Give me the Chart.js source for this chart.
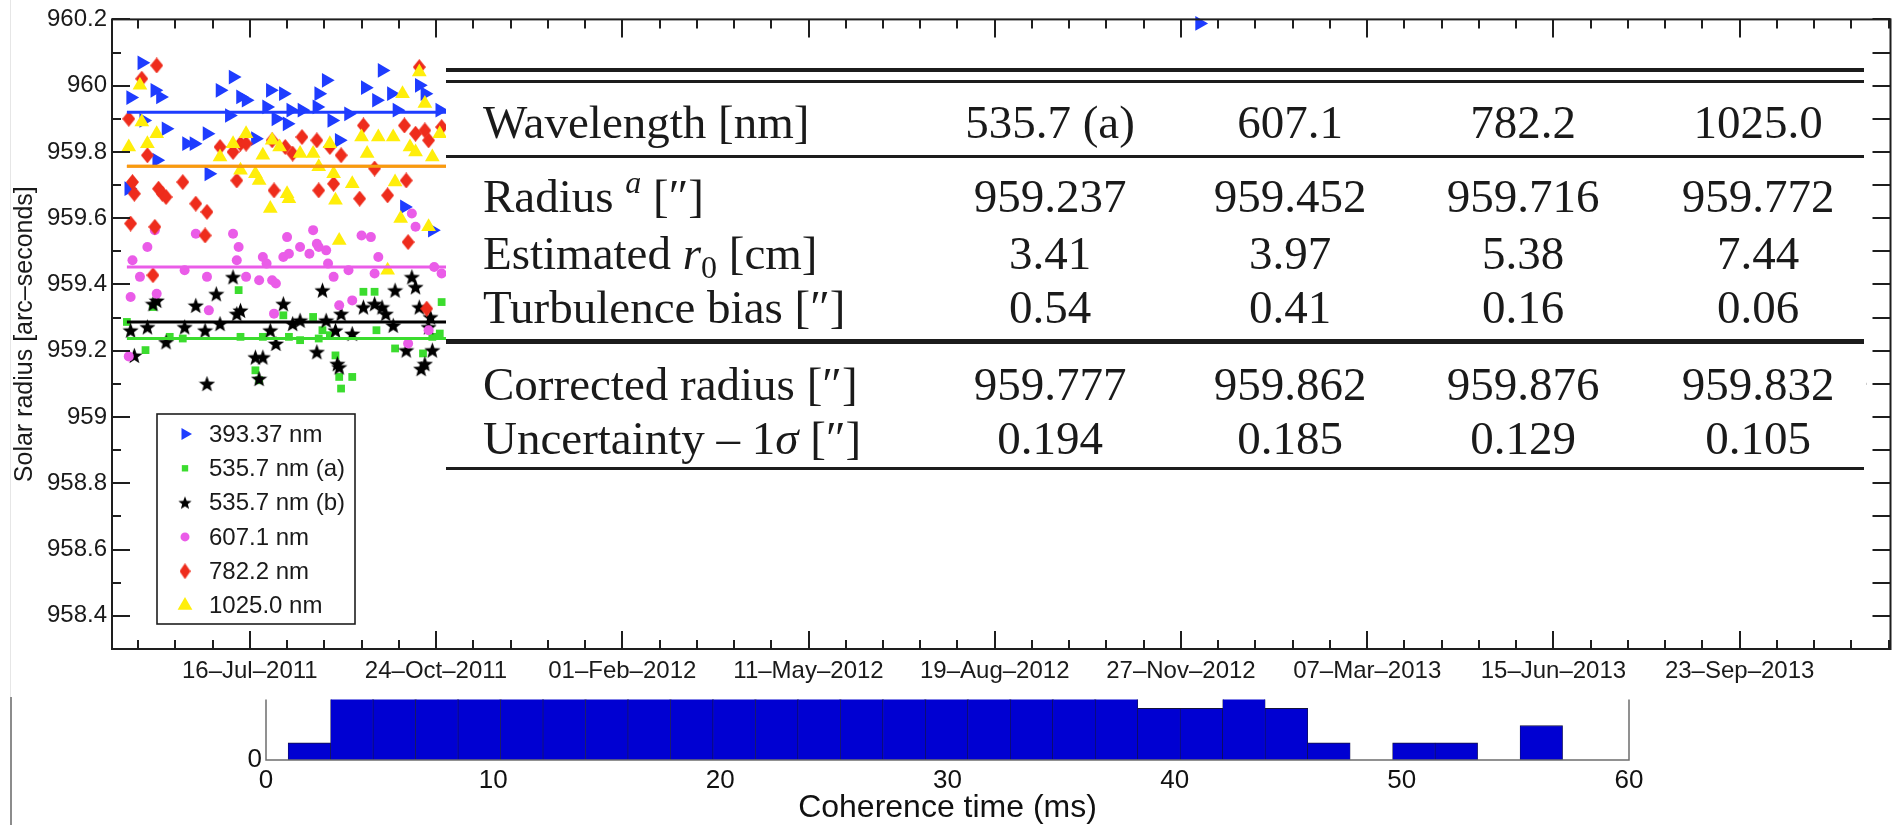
<!DOCTYPE html>
<html>
<head>
<meta charset="utf-8">
<script src="https://cdn.jsdelivr.net/npm/chart.js@4.4.1/dist/chart.umd.min.js"></script>
<style>
  html, body { margin: 0; padding: 0; background: #fff; }
  #page { position: relative; width: 1899px; height: 825px; overflow: hidden; background: #fff; }
  #radiusCanvas { position: absolute; left: 0; top: 0; }
  #histCanvas { position: absolute; left: 0; top: 680px; }
  .edge { position: absolute; }
  .rule { position: absolute; background: #1c1c1c; }
  .cell { position: absolute; font-family: "Liberation Serif", "Times New Roman", serif; font-size: 47px;
          line-height: 47px; color: #1a1a1a; white-space: nowrap; }
  .num { width: 300px; text-align: center; }
  .cell sup { font-size: 32px; line-height: 0; vertical-align: 0; position: relative; top: -19px; }
  .cell sub { font-size: 32px; line-height: 0; vertical-align: 0; position: relative; top: 9px; }
</style>
</head>
<body>
<div id="page">
  <div class="edge" style="left:10px;top:0;width:1px;height:697px;background:#e6e6e6"></div>
  <div class="edge" style="left:10px;top:697px;width:2px;height:128px;background:#8c8c8c"></div>
  <canvas id="radiusCanvas" width="1899" height="700"></canvas>
  <canvas id="histCanvas" width="1899" height="145"></canvas>
  <div id="table"></div>
</div>
<script>
// ---------------- daily solar radius measurements ----------------
const seriesLabels = ['393.37 nm', '535.7 nm (a)', '535.7 nm (b)', '607.1 nm', '782.2 nm', '1025.0 nm'];

const dates393 = ['2011-05-12','2011-05-13','2011-05-19','2011-05-20','2011-05-26','2011-05-27','2011-05-29','2011-06-01',
  '2011-06-12','2011-06-16','2011-06-23','2011-06-24','2011-06-30','2011-07-05','2011-07-07','2011-07-11','2011-07-14',
  '2011-07-19','2011-07-25','2011-07-27','2011-07-30','2011-08-03','2011-08-05','2011-08-07','2011-08-13','2011-08-21',
  '2011-08-22','2011-08-26','2011-08-29','2011-09-02','2011-09-07','2011-09-16','2011-09-22','2011-09-25','2011-09-30',
  '2011-10-03','2011-10-07','2011-10-15','2011-10-18','2011-10-22','2011-10-26','2012-12-07'];
const radius393 = [959.689,959.964,960.069,959.895,959.986,959.775,959.966,959.870,
  959.825,959.825,959.855,959.734,959.986,959.910,960.026,959.966,959.956,
  959.840,959.936,959.986,959.900,959.976,959.885,959.926,959.926,959.936,
  959.976,960.016,959.895,959.835,959.915,959.994,959.956,960.046,959.976,
  959.926,959.634,960.001,959.976,959.564,959.926,960.188];

const dates535a = ['2011-05-11','2011-05-21','2011-05-25','2011-06-03','2011-06-10','2011-07-10','2011-07-11','2011-07-19',
  '2011-07-21','2011-07-23','2011-08-03','2011-08-06','2011-08-12','2011-08-19','2011-08-22','2011-08-24','2011-08-28',
  '2011-08-31','2011-09-02','2011-09-03','2011-09-09','2011-09-15','2011-09-21','2011-09-22','2011-10-02','2011-10-17',
  '2011-10-22','2011-10-26','2011-10-27','2013-11-26'];
const radius535a = [959.287,959.202,959.332,959.242,959.237,959.383,959.242,959.141,
  959.111,959.242,959.307,959.242,959.232,959.302,959.237,959.262,959.247,
  959.186,959.121,959.086,959.121,959.378,959.378,959.262,959.207,959.192,
  959.242,959.252,959.347,959.268];

const dates535b = ['2011-05-13','2011-05-15','2011-05-22','2011-05-25','2011-05-27','2011-06-01','2011-06-11','2011-06-17',
  '2011-06-22','2011-06-23','2011-06-28','2011-06-30','2011-07-07','2011-07-09','2011-07-11','2011-07-19','2011-07-21',
  '2011-07-23','2011-07-27','2011-07-30','2011-08-03','2011-08-08','2011-08-12','2011-08-21','2011-08-24','2011-08-26',
  '2011-08-31','2011-09-01','2011-09-02','2011-09-03','2011-09-09','2011-09-15','2011-09-21','2011-09-25','2011-09-27',
  '2011-10-01','2011-10-02','2011-10-08','2011-10-11','2011-10-13','2011-10-15','2011-10-16','2011-10-18','2011-10-20',
  '2011-10-21','2011-10-22','2013-11-26'];
const radius535b = [959.262,959.186,959.272,959.342,959.352,959.227,959.272,959.337,
  959.262,959.101,959.372,959.282,959.423,959.312,959.322,959.181,959.116,
  959.181,959.262,959.222,959.342,959.282,959.292,959.197,959.383,959.292,
  959.262,959.161,959.151,959.312,959.252,959.332,959.342,959.332,959.312,
  959.277,959.383,959.202,959.423,959.393,959.332,959.146,959.161,959.272,
  959.302,959.202,959.096];

const dates607 = ['2011-05-12','2011-05-13','2011-05-14','2011-05-18','2011-05-22','2011-05-26','2011-05-27','2011-06-11',
  '2011-06-17','2011-06-23','2011-06-24','2011-07-07','2011-07-09','2011-07-10','2011-07-14','2011-07-21','2011-07-23',
  '2011-07-25','2011-07-28','2011-07-29','2011-07-30','2011-08-03','2011-08-05','2011-08-06','2011-08-12','2011-08-17',
  '2011-08-19','2011-08-21','2011-08-22','2011-08-26','2011-08-27','2011-08-30','2011-09-02','2011-09-07','2011-09-09',
  '2011-09-14','2011-09-19','2011-09-21','2011-09-23','2011-10-09','2011-10-11','2011-10-13','2011-10-20','2011-10-23',
  '2011-10-27','2013-11-26'];
const radius607 = [959.183,959.362,959.473,959.423,959.513,959.564,959.372,959.443,
  959.553,959.423,959.322,959.553,959.473,959.513,959.423,959.413,959.483,
  959.463,959.413,959.312,959.403,959.483,959.543,959.493,959.513,959.493,
  959.564,959.523,959.513,959.503,959.463,959.423,959.337,959.443,959.352,
  959.548,959.543,959.433,959.483,959.222,959.614,959.574,959.262,959.453,
  959.433,959.238];

const dates782 = ['2011-05-12','2011-05-13','2011-05-14','2011-05-15','2011-05-19','2011-05-22','2011-05-25','2011-05-26',
  '2011-05-27','2011-05-28','2011-05-30','2011-06-01','2011-06-10','2011-06-17','2011-06-22','2011-06-23','2011-06-30',
  '2011-07-07','2011-07-09','2011-07-11','2011-07-14','2011-07-28','2011-07-29','2011-08-04','2011-08-08','2011-08-13',
  '2011-08-21','2011-08-22','2011-08-28','2011-08-30','2011-09-03','2011-09-13','2011-09-15','2011-09-21','2011-09-28',
  '2011-10-07','2011-10-08','2011-10-09','2011-10-13','2011-10-15','2011-10-18','2011-10-19','2011-10-20','2011-10-27',
  '2013-11-26'];
const radius782 = [959.900,959.584,959.709,959.674,960.021,959.790,959.428,959.574,
  960.061,959.689,959.674,959.664,959.709,959.644,959.548,959.619,959.815,
  959.800,959.714,959.825,959.825,959.835,959.684,959.815,959.795,959.845,
  959.835,959.684,959.815,959.704,959.790,959.659,959.880,959.750,959.669,
  959.880,959.714,959.528,959.855,960.056,959.865,959.327,959.835,959.875,
  959.594];

const dates1025 = ['2011-05-12','2011-05-18','2011-05-19','2011-05-22','2011-05-27','2011-06-30','2011-07-07','2011-07-11',
  '2011-07-14','2011-07-19','2011-07-21','2011-07-23','2011-07-27','2011-07-28','2011-08-01','2011-08-05','2011-08-06',
  '2011-08-12','2011-08-19','2011-08-22','2011-08-28','2011-08-30','2011-08-31','2011-09-02','2011-09-09','2011-09-14',
  '2011-09-17','2011-09-23','2011-09-28','2011-10-01','2011-10-02','2011-10-05','2011-10-06','2011-10-10','2011-10-13',
  '2011-10-15','2011-10-18','2011-10-20','2011-10-22','2011-10-26','2013-11-24','2013-11-26'];
const radius1025 = [959.815,960.001,959.890,959.825,959.855,959.785,959.825,959.745,
  959.855,959.734,959.714,959.790,959.629,959.835,959.815,959.674,959.659,
  959.795,959.795,959.755,959.825,959.734,959.654,959.533,959.704,959.845,
  959.795,959.845,959.443,959.845,959.709,959.599,959.976,959.815,959.800,
  960.041,959.946,959.574,959.785,959.855,959.714,959.802];

// mean level fitted to each series (same order as seriesLabels) and the span it covers
const fitRadius = [959.920, 959.237, 959.287, 959.453, 959.757, 959.757];
const fitSpan = ['2011-05-11', '2013-11-26'];

// axis ranges and tick labels
const axisStart = '2011-05-03';
const axisEnd = '2013-12-13';
const dateTickLabels = ['16–Jul–2011', '24–Oct–2011', '01–Feb–2012', '11–May–2012', '19–Aug–2012',
  '27–Nov–2012', '07–Mar–2013', '15–Jun–2013', '23–Sep–2013'];
const radiusMin = 958.3;
const radiusMax = 960.2;
const radiusTickLabels = ['958.4', '958.6', '958.8', '959', '959.2', '959.4', '959.6', '959.8', '960', '960.2'];

// ---------------- coherence time histogram ----------------
const binCenters = [1.91, 3.78, 5.65, 7.52, 9.39, 11.26, 13.13, 15.00, 16.87, 18.74, 20.61, 22.48, 24.35, 26.22,
  28.09, 29.96, 31.83, 33.70, 35.57, 37.44, 39.31, 41.18, 43.05, 44.92, 46.79, 48.66, 50.53, 52.40, 54.27, 56.14];
const binCounts = [1, 4, 4, 4, 4, 4, 4, 4, 4, 4, 4, 4, 4, 4, 4, 4, 4, 4, 4, 4, 3, 3, 4, 3, 1, 0, 1, 1, 0, 2];
const coherenceTicks = ['0', '10', '20', '30', '40', '50', '60'];

// ---------------- results table ----------------
const tableHeader = 'Wavelength [nm]';
const tableColumns = ['535.7 (a)', '607.1', '782.2', '1025.0'];
const rowLabels = ['Radius <sup><i>a</i></sup> [″]', 'Estimated <i>r</i><sub>0</sub> [cm]', 'Turbulence bias [″]',
  'Corrected radius [″]', 'Uncertainty – 1<i>σ</i> [″]'];
const radiusArcsec = [959.237, 959.452, 959.716, 959.772];
const friedR0 = [3.41, 3.97, 5.38, 7.44];
const turbulenceBias = [0.54, 0.41, 0.16, 0.06];
const correctedRadius = [959.777, 959.862, 959.876, 959.832];
const radiusUncertainty = [0.194, 0.185, 0.129, 0.105];

// ================================================================
const SANS = '"Liberation Sans", Arial, Helvetica, sans-serif';
Chart.defaults.font.family = SANS;
Chart.defaults.color = '#1a1a1a';

const DAY = 86400000;
const MONTHS = {Jan: 0, Feb: 1, Mar: 2, Apr: 3, May: 4, Jun: 5, Jul: 6, Aug: 7, Sep: 8, Oct: 9, Nov: 10, Dec: 11};
const parseDay = s => Date.parse(s + 'T00:00:00Z');
const parseTickDate = s => { const [d, m, y] = s.split('–'); return Date.UTC(+y, MONTHS[m], +d); };

const xMin = parseDay(axisStart), xMax = parseDay(axisEnd);
const majorX = dateTickLabels.map(parseTickDate);
const xLabelFor = new Map(majorX.map((t, i) => [t, dateTickLabels[i]]));
const xTickValues = [];
for (let t = majorX[0]; t >= xMin; t -= 20 * DAY) xTickValues.push(t);
for (let t = majorX[0] + 20 * DAY; t < xMax; t += 20 * DAY) xTickValues.push(t);
xTickValues.sort((a, b) => a - b);

const majorY = radiusTickLabels.map(Number);
const yLabelFor = v => { const i = majorY.findIndex(m => Math.abs(m - v) < 1e-6); return i < 0 ? '' : radiusTickLabels[i]; };
const yTickValues = [];
for (let k = Math.round(radiusMin * 10) + 1; k <= Math.round(radiusMax * 10); k++) yTickValues.push(k / 10);

// marker sprites for shapes Chart.js has no filled version of
function starSprite(size, color) {
  const c = document.createElement('canvas'); c.width = c.height = size;
  const g = c.getContext('2d'); g.fillStyle = color; g.beginPath();
  const R = size / 2, r = R * 0.42, cx = size / 2, cy = size / 2 + R * 0.1;
  for (let k = 0; k < 10; k++) {
    const a = -Math.PI / 2 + k * Math.PI / 5, rr = k % 2 ? r : R;
    g.lineTo(cx + rr * Math.cos(a), cy + rr * Math.sin(a));
  }
  g.closePath(); g.fill(); return c;
}
function diamondSprite(w, h, color) {
  const c = document.createElement('canvas'); c.width = w; c.height = h;
  const g = c.getContext('2d'); g.fillStyle = color; g.beginPath();
  g.moveTo(w / 2, 0); g.lineTo(w, h / 2); g.lineTo(w / 2, h); g.lineTo(0, h / 2); g.closePath(); g.fill(); return c;
}

const BLUE = '#1e3cff', GREEN = '#3bdc2e', BLACK = '#000000', MAGENTA = '#ea5ce8', RED = '#ee2c1c', YELLOW = '#ffee0a';

const seriesStyles = [
  {dates: dates393, radius: radius393, color: BLUE, pointStyle: 'triangle', rotation: 90, r: 8.5, legendR: 7},
  {dates: dates535a, radius: radius535a, color: GREEN, pointStyle: 'rect', rotation: 0, r: 5.5, legendR: 4.5},
  {dates: dates535b, radius: radius535b, color: BLACK, pointStyle: starSprite(17, BLACK), rotation: 0, r: 8,
   legendStyle: starSprite(14, BLACK)},
  {dates: dates607, radius: radius607, color: MAGENTA, pointStyle: 'circle', rotation: 0, r: 5, legendR: 4.5},
  {dates: dates782, radius: radius782, color: RED, pointStyle: diamondSprite(13, 16, RED), rotation: 0, r: 8,
   legendStyle: diamondSprite(11, 16, RED)},
  {dates: dates1025, radius: radius1025, color: YELLOW, pointStyle: 'triangle', rotation: 0, r: 8.5, legendR: 8.5}
];
// the 782.2 and 1025.0 means coincide; the translucent yellow over red reads as one orange line
const fitColors = [BLUE, GREEN, BLACK, MAGENTA, RED, 'rgba(255,232,0,0.6)'];
const fitOrder = [0, 0, 0, 0, 0, -1];
const drawOrder = [6, 5, 4, 3, 2, 1];

const datasets = [];
seriesStyles.forEach((s, i) => {
  datasets.push({
    label: seriesLabels[i],
    data: s.dates.map((d, j) => ({x: parseDay(d), y: s.radius[j]})),
    pointStyle: s.pointStyle, pointRotation: s.rotation, pointRadius: s.r,
    backgroundColor: s.color, borderWidth: 0, showLine: false, order: drawOrder[i], clip: false
  });
});
fitRadius.forEach((level, i) => {
  datasets.push({
    label: seriesLabels[i] + ' mean',
    data: fitSpan.map(d => ({x: parseDay(d), y: level})),
    showLine: true, pointRadius: 0, borderColor: fitColors[i], borderWidth: 3, order: fitOrder[i], clip: false
  });
});

const PANEL = {x0: 446, y0: 36, x1: 1866, y1: 648};

const framePlugin = {
  id: 'radiusFrame',
  afterDatasetsDraw(chart) {
    const {ctx, chartArea: a, scales: {x, y}} = chart;
    ctx.save();
    // white panel that carries the results table
    ctx.fillStyle = '#fff';
    ctx.fillRect(PANEL.x0, PANEL.y0, PANEL.x1 - PANEL.x0, PANEL.y1 - PANEL.y0);

    // axes box
    ctx.strokeStyle = '#1e1e1e';
    ctx.lineWidth = 2;
    ctx.strokeRect(a.left, a.top, a.right - a.left, a.bottom - a.top);

    // inward tick marks on all four sides
    ctx.beginPath();
    x.ticks.forEach(t => {
      const px = Math.round(x.getPixelForValue(t.value));
      const len = xLabelFor.has(t.value) ? 18 : 9;
      ctx.moveTo(px, a.bottom); ctx.lineTo(px, a.bottom - len);
      ctx.moveTo(px, a.top); ctx.lineTo(px, a.top + len);
    });
    y.ticks.forEach(t => {
      const py = Math.round(y.getPixelForValue(t.value));
      const len = yLabelFor(t.value) ? 18 : 9;
      ctx.moveTo(a.left, py); ctx.lineTo(a.left + len, py);
      ctx.moveTo(a.right, py); ctx.lineTo(a.right - 18, py);
    });
    ctx.stroke();

    // legend
    const box = {x: 157, y: 414, w: 198, h: 210};
    ctx.fillStyle = '#fff';
    ctx.fillRect(box.x, box.y, box.w, box.h);
    ctx.lineWidth = 1.6;
    ctx.strokeRect(box.x, box.y, box.w, box.h);
    ctx.font = '24px ' + SANS;
    ctx.textBaseline = 'middle';
    ctx.textAlign = 'left';
    seriesStyles.forEach((s, i) => {
      const cy = box.y + 20 + i * 34.3;
      ctx.fillStyle = s.color;
      Chart.helpers.drawPoint(ctx, {
        pointStyle: s.legendStyle || s.pointStyle, rotation: s.rotation,
        radius: s.legendR || s.r, borderWidth: 0
      }, 185, cy);
      ctx.fillStyle = '#1a1a1a';
      ctx.fillText(seriesLabels[i], 209, cy + 1);
    });
    ctx.restore();
  }
};

new Chart(document.getElementById('radiusCanvas'), {
  type: 'scatter',
  data: {datasets},
  options: {
    responsive: false, animation: false, events: [],
    layout: {padding: {top: 19, right: 3, left: 0, bottom: 0}},
    plugins: {legend: {display: false}, tooltip: {enabled: false}},
    scales: {
      x: {
        type: 'linear', min: xMin, max: xMax,
        afterBuildTicks: s => { s.ticks = xTickValues.map(v => ({value: v})); },
        afterFit: s => { s.height = 51; },
        grid: {display: false, drawTicks: false},
        border: {display: false},
        ticks: {autoSkip: false, maxRotation: 0, minRotation: 0, padding: 8, color: '#1a1a1a',
                font: {size: 24}, callback: v => xLabelFor.get(v) || ''}
      },
      y: {
        type: 'linear', min: radiusMin, max: radiusMax,
        afterBuildTicks: s => { s.ticks = yTickValues.map(v => ({value: v})); },
        afterFit: s => { s.width = 112; },
        grid: {display: false, drawTicks: false},
        border: {display: false},
        ticks: {autoSkip: false, padding: 5, color: '#1a1a1a', font: {size: 24}, callback: v => yLabelFor(v)},
        title: {display: true, text: 'Solar radius [arc–seconds]', color: '#1a1a1a',
                font: {size: 25}, padding: {top: 10, bottom: 0}}
      }
    }
  },
  plugins: [framePlugin]
});

// ---------------- histogram ----------------
const histFrame = {
  id: 'histFrame',
  afterDatasetsDraw(chart) {
    const {ctx, chartArea: a} = chart;
    ctx.save();
    ctx.strokeStyle = '#6e6e6e';
    ctx.lineWidth = 1.5;
    ctx.beginPath();
    ctx.moveTo(a.left, a.top); ctx.lineTo(a.left, a.bottom); ctx.lineTo(a.right, a.bottom); ctx.lineTo(a.right, a.top);
    ctx.stroke();
    ctx.restore();
  }
};

new Chart(document.getElementById('histCanvas'), {
  type: 'bar',
  data: {
    datasets: [{
      label: 'Coherence time',
      data: binCenters.map((c, i) => ({x: c, y: binCounts[i]})),
      backgroundColor: '#0000d2',
      borderColor: '#14143c',
      borderWidth: {top: 1, left: 0.6, right: 0.6, bottom: 0},
      barPercentage: 1, categoryPercentage: 1
    }]
  },
  options: {
    responsive: false, animation: false, events: [],
    layout: {padding: {top: 16, right: 270, left: 0, bottom: 0}},
    plugins: {legend: {display: false}, tooltip: {enabled: false}},
    scales: {
      x: {
        type: 'linear', min: 0, max: 60, offset: false,
        afterBuildTicks: s => { s.ticks = coherenceTicks.map(t => ({value: Number(t)})); },
        afterFit: s => { s.height = 65; },
        grid: {display: false, drawTicks: false, offset: false},
        border: {display: false},
        ticks: {autoSkip: false, maxRotation: 0, padding: 5, color: '#111', font: {size: 26},
                callback: v => coherenceTicks.find(t => Number(t) === v) || ''},
        title: {display: true, text: 'Coherence time (ms)', color: '#111',
                font: {size: 32, lineHeight: 1}, padding: {top: 0, bottom: 1}}
      },
      y: {
        min: 0, max: 3.5,
        afterBuildTicks: s => { s.ticks = [{value: 0}]; },
        afterFit: s => { s.width = 266; },
        grid: {display: false, drawTicks: false},
        border: {display: false},
        ticks: {padding: 4, color: '#111', font: {size: 26}, callback: v => String(v)}
      }
    }
  },
  plugins: [histFrame]
});

// ---------------- results table (HTML text over the white panel) ----------------
const table = document.getElementById('table');
const colCenters = [1050, 1290, 1523, 1758];
const rowBaselines = [138, 212, 269, 323, 400, 454];
const rules = [{y: 70, h: 4}, {y: 81, h: 3}, {y: 156, h: 3}, {y: 341, h: 5}, {y: 468, h: 3}];
const RULE_X0 = 446, RULE_X1 = 1864;

function addCell(html, left, baseline, isNum) {
  const el = document.createElement('div');
  el.className = 'cell' + (isNum ? ' num' : '');
  el.innerHTML = html;
  el.style.left = (isNum ? left - 150 : left) + 'px';
  el.style.top = (baseline - 39) + 'px';
  table.appendChild(el);
}
rules.forEach(r => {
  const el = document.createElement('div');
  el.className = 'rule';
  el.style.left = RULE_X0 + 'px';
  el.style.width = (RULE_X1 - RULE_X0) + 'px';
  el.style.top = (r.y - r.h / 2) + 'px';
  el.style.height = r.h + 'px';
  table.appendChild(el);
});
addCell(tableHeader, 483, rowBaselines[0], false);
tableColumns.forEach((c, j) => addCell(c, colCenters[j], rowBaselines[0], true));
const rowValues = [radiusArcsec, friedR0, turbulenceBias, correctedRadius, radiusUncertainty];
const rowDecimals = [3, 2, 2, 3, 3];
rowLabels.forEach((label, i) => {
  addCell(label, 483, rowBaselines[i + 1], false);
  rowValues[i].forEach((v, j) => addCell(v.toFixed(rowDecimals[i]), colCenters[j], rowBaselines[i + 1], true));
});
</script>
</body>
</html>
